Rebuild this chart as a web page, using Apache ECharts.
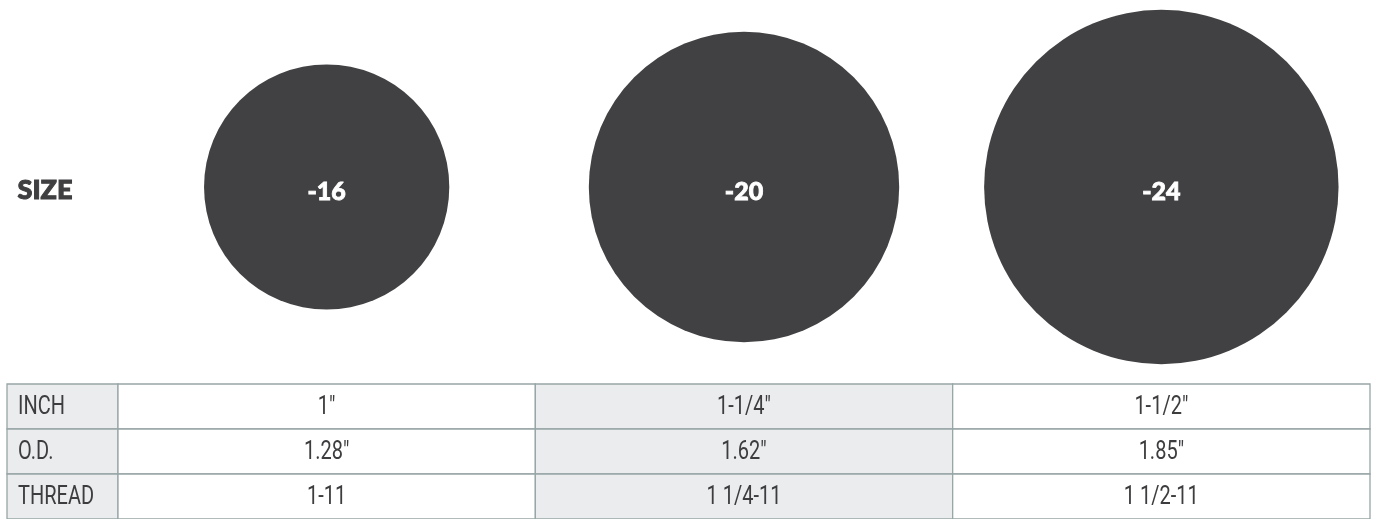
<!DOCTYPE html>
<html>
<head>
<meta charset="utf-8">
<title>Size chart</title>
<script src="https://cdn.jsdelivr.net/npm/echarts@6/dist/echarts.min.js"></script>
<style>
  html, body { margin: 0; padding: 0; background: #fff; }
  #main { width: 1375px; height: 519px; }
</style>
</head>
<body>
<div id="main"></div>
<script>
  // 数据
  var sizes = ['-16', '-20', '-24'];
  var odInches = [1.28, 1.62, 1.85];
  var rowNames = ['INCH', 'O.D.', 'THREAD'];
  var inchValues = ['1"', '1-1/4"', '1-1/2"'];
  var odLabels = ['1.28"', '1.62"', '1.85"'];
  var threadValues = ['1-11', '1 1/4-11', '1 1/2-11'];

  var pxPerInch = 191.6;
  var headerWidth = 111;
  // condensed look: Roboto squeezed horizontally
  var tableFont = '25px Roboto, "Noto Sans", sans-serif';
  var squeeze = 0.8;

  // circles: [size, y, od]
  var circleData = sizes.map(function (s, i) {
    return [s, 0, odInches[i]];
  });

  // table cells: [col, row, isHeader]
  var tableRows = [inchValues, odLabels, threadValues];
  var cells = [];
  rowNames.forEach(function (name, r) {
    cells.push({ value: [0, r, 1], name: name });
    tableRows[r].forEach(function (txt, c) {
      cells.push({ value: [c, r, 0], name: txt });
    });
  });

  function renderCell(params, api) {
    var col = api.value(0);
    var row = api.value(1);
    var isHeader = api.value(2);
    var center = api.coord([col, row]);
    var size = api.size([1, 1]);
    var cs = params.coordSys;
    var x, w, fill;
    if (isHeader) {
      x = cs.x - headerWidth;
      w = headerWidth;
      fill = '#ebecee';
    } else {
      x = center[0] - size[0] / 2;
      w = size[0];
      fill = col % 2 === 1 ? '#ebecee' : '#ffffff';
    }
    var y = center[1] - size[1] / 2;
    return {
      type: 'group',
      children: [{
        type: 'rect',
        shape: { x: x, y: y, width: w, height: size[1] },
        style: { fill: fill, stroke: '#98a5a7', lineWidth: 1.3 }
      }, {
        type: 'text',
        x: isHeader ? x + 11 : center[0],
        y: center[1] + 1,
        scaleX: squeeze,
        style: {
          text: cells[params.dataIndex].name,
          x: 0,
          y: 0,
          align: isHeader ? 'left' : 'center',
          verticalAlign: 'middle',
          font: tableFont,
          fill: '#3d3d3f'
        }
      }]
    };
  }

  var chart = echarts.init(document.getElementById('main'));

  var option = {
    animation: false,
    // SIZE 标签
    graphic: [{
      type: 'text',
      left: 17,
      top: 176,
      style: {
        text: 'SIZE',
        font: '900 27px Lato, "Noto Sans", sans-serif',
        fill: '#3f3f41',
        stroke: '#3f3f41',
        lineWidth: 1
      }
    }],
    grid: [{
      left: 118,
      right: 5,
      top: 0,
      height: 374
    }, {
      left: 118,
      right: 5,
      top: 384,
      height: 138
    }],
    xAxis: [{
      type: 'category',
      gridIndex: 0,
      data: sizes,
      show: false
    }, {
      type: 'category',
      gridIndex: 1,
      data: sizes,
      show: false
    }],
    yAxis: [{
      type: 'value',
      gridIndex: 0,
      min: -1,
      max: 1,
      show: false
    }, {
      type: 'category',
      gridIndex: 1,
      data: rowNames,
      inverse: true,
      show: false
    }],
    series: [{
      type: 'scatter',
      xAxisIndex: 0,
      yAxisIndex: 0,
      data: circleData,
      symbol: 'circle',
      symbolSize: function (val) {
        return val[2] * pxPerInch;
      },
      itemStyle: {
        color: '#414143',
        opacity: 1
      },
      label: {
        show: true,
        position: 'inside',
        offset: [0, 5],
        formatter: function (p) {
          return p.value[0];
        },
        color: '#ffffff',
        fontFamily: 'Lato, "Noto Sans", sans-serif',
        fontWeight: 900,
        fontSize: 25,
        textBorderColor: '#ffffff',
        textBorderWidth: 0.8
      },
      emphasis: { disabled: true }
    }, {
      type: 'custom',
      xAxisIndex: 1,
      yAxisIndex: 1,
      data: cells,
      renderItem: renderCell,
      clip: false
    }]
  };
  chart.setOption(option);
</script>
</body>
</html>
